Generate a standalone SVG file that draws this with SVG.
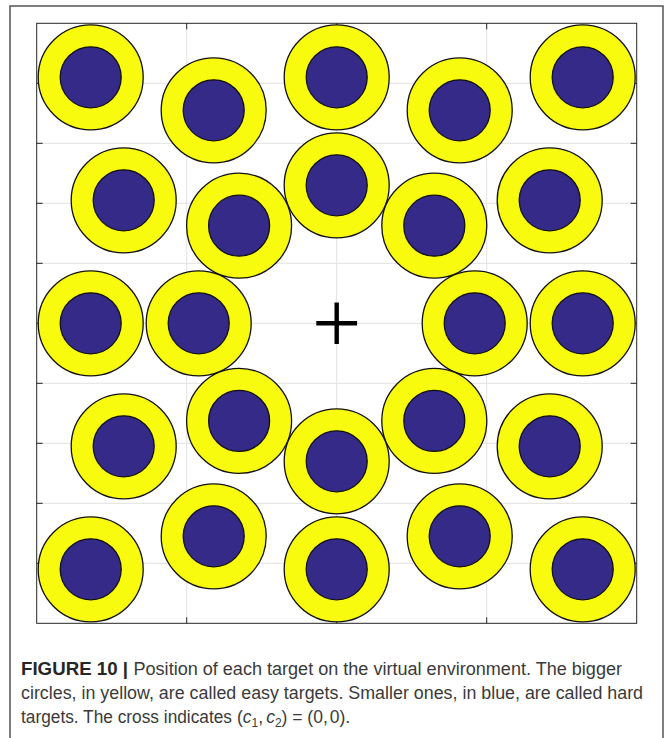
<svg xmlns="http://www.w3.org/2000/svg" xmlns:xlink="http://www.w3.org/1999/xlink" width="665" height="738" viewBox="0 0 665 738">
  <style>
    .frame { fill: none; stroke: #5e5e5e; stroke-width: 1.6; }
    .grid { fill: none; stroke: #e2e2e2; stroke-width: 1; }
    .axis { fill: none; stroke: #262626; stroke-width: 1; }
    .tick { fill: none; stroke: #262626; stroke-width: 1; }
    .easy { fill: #F9FB0E; stroke: #111; stroke-width: 1.3; }
    .hard { fill: #352A87; stroke: #111; stroke-width: 1.3; }
    .cross { fill: none; stroke: #000; stroke-width: 4.4; }
    .cap { font-family: "Liberation Sans", Arial, sans-serif; font-size: 17.5px; fill: #3a3a3a; }
    .capb { font-family: "Liberation Sans", Arial, sans-serif; font-size: 17.5px; font-weight: bold; fill: #262626; }
  </style>
  <defs>
    <g id="target">
      <circle class="easy" cx="0" cy="0" r="52.5"/>
      <circle class="hard" cx="0" cy="0" r="30.5"/>
    </g>
  </defs>
  <rect width="665" height="738" fill="#ffffff"/>
  <rect class="frame" x="10" y="6" width="653" height="745"/>

  <g id="axes">
    <rect x="36.7" y="23.3" width="600" height="600" fill="#ffffff"/>
    <path class="grid" d="M186.7,23.3V623.3 M336.7,23.3V623.3 M486.7,23.3V623.3 M36.7,83.3H636.7 M36.7,143.3H636.7 M36.7,203.3H636.7 M36.7,263.3H636.7 M36.7,323.3H636.7 M36.7,383.3H636.7 M36.7,443.3H636.7 M36.7,503.3H636.7 M36.7,563.3H636.7"/>
    <path class="tick" d="M36.7,83.3h6 M36.7,143.3h6 M36.7,203.3h6 M36.7,263.3h6 M36.7,323.3h6 M36.7,383.3h6 M36.7,443.3h6 M36.7,503.3h6 M36.7,563.3h6 M636.7,83.3h-6 M636.7,143.3h-6 M636.7,203.3h-6 M636.7,263.3h-6 M636.7,323.3h-6 M636.7,383.3h-6 M636.7,443.3h-6 M636.7,503.3h-6 M636.7,563.3h-6 M186.7,23.3v6 M336.7,23.3v6 M486.7,23.3v6 M186.7,623.3v-6 M336.7,623.3v-6 M486.7,623.3v-6"/>
    <rect class="axis" x="36.7" y="23.3" width="600" height="600"/>
  </g>

  <g id="targets">
    <g id="t01"><use xlink:href="#target" href="#target" transform="translate(90.7,77.3)"/></g>
    <g id="t02"><use xlink:href="#target" href="#target" transform="translate(336.7,77.3)"/></g>
    <g id="t03"><use xlink:href="#target" href="#target" transform="translate(582.7,77.3)"/></g>
    <g id="t04"><use xlink:href="#target" href="#target" transform="translate(213.7,110.3)"/></g>
    <g id="t05"><use xlink:href="#target" href="#target" transform="translate(459.7,110.3)"/></g>
    <g id="t06"><use xlink:href="#target" href="#target" transform="translate(336.7,185.3)"/></g>
    <g id="t07"><use xlink:href="#target" href="#target" transform="translate(123.7,200.3)"/></g>
    <g id="t08"><use xlink:href="#target" href="#target" transform="translate(549.7,200.3)"/></g>
    <g id="t09"><use xlink:href="#target" href="#target" transform="translate(239.1,225.7)"/></g>
    <g id="t10"><use xlink:href="#target" href="#target" transform="translate(434.3,225.7)"/></g>
    <g id="t11"><use xlink:href="#target" href="#target" transform="translate(90.7,323.3)"/></g>
    <g id="t12"><use xlink:href="#target" href="#target" transform="translate(198.7,323.3)"/></g>
    <g id="t13"><use xlink:href="#target" href="#target" transform="translate(474.7,323.3)"/></g>
    <g id="t14"><use xlink:href="#target" href="#target" transform="translate(582.7,323.3)"/></g>
    <g id="t15"><use xlink:href="#target" href="#target" transform="translate(239.1,420.9)"/></g>
    <g id="t16"><use xlink:href="#target" href="#target" transform="translate(434.3,420.9)"/></g>
    <g id="t17"><use xlink:href="#target" href="#target" transform="translate(123.7,446.3)"/></g>
    <g id="t18"><use xlink:href="#target" href="#target" transform="translate(549.7,446.3)"/></g>
    <g id="t19"><use xlink:href="#target" href="#target" transform="translate(336.7,461.3)"/></g>
    <g id="t20"><use xlink:href="#target" href="#target" transform="translate(213.7,536.3)"/></g>
    <g id="t21"><use xlink:href="#target" href="#target" transform="translate(459.7,536.3)"/></g>
    <g id="t22"><use xlink:href="#target" href="#target" transform="translate(90.7,569.3)"/></g>
    <g id="t23"><use xlink:href="#target" href="#target" transform="translate(336.7,569.3)"/></g>
    <g id="t24"><use xlink:href="#target" href="#target" transform="translate(582.7,569.3)"/></g>
  </g>

  <g id="origin">
    <path class="cross" d="M316.3,323.3H357.1 M336.7,302.6V344"/>
  </g>

  <g id="connectors"/>

  <g id="caption">
    <text class="capb" x="21" y="675" textLength="107" lengthAdjust="spacingAndGlyphs">FIGURE 10 |</text>
    <text class="cap" x="133.5" y="675" textLength="488.5" lengthAdjust="spacingAndGlyphs">Position of each target on the virtual environment. The bigger</text>
    <text class="cap" x="21" y="699" textLength="622" lengthAdjust="spacingAndGlyphs">circles, in yellow, are called easy targets. Smaller ones, in blue, are called hard</text>
    <text class="cap" x="21" y="723" textLength="211" lengthAdjust="spacingAndGlyphs">targets. The cross indicates</text>
    <text class="cap" x="237" y="723">(<tspan font-style="italic">c</tspan><tspan font-size="12" dy="4">1</tspan><tspan dy="-4">,</tspan><tspan font-style="italic" dx="3">c</tspan><tspan font-size="12" dy="4">2</tspan><tspan dy="-4">) = (0,</tspan><tspan dx="2">0).</tspan></text>
  </g>
</svg>
